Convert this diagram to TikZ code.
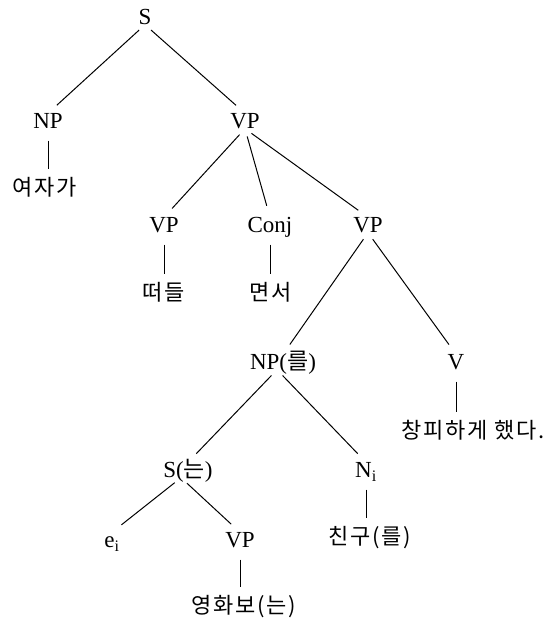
\documentclass[tikz,border=0pt]{standalone}
\usepackage{fontspec}
\setmainfont{Liberation Serif}
\newfontfamily\kr[LetterSpace=8]{Noto Sans CJK KR}
\usetikzlibrary{positioning}

\begin{document}
\begin{tikzpicture}[
    x=1pt, y=-1pt,
    cat/.style={inner sep=0pt, font=\fontsize{23}{26}\selectfont, text height=15pt, text depth=0pt},
    word/.style={inner sep=0pt, font=\kr\fontsize{22}{25}\selectfont, text height=16pt, text depth=3pt},
    branch/.style={line width=1pt, black, shorten <=8pt, shorten >=12pt},
    leaf/.style={line width=1pt, black, shorten <=12pt, shorten >=10pt}
]
    \useasboundingbox (0,0) rectangle (556,623);

    % ========== Categories ==========
    \node (s) [cat] at (145, 17) {S};
    \node (np) [cat] at (48, 121) {NP};
    \node (vp) [cat] at (245, 121) {VP};
    \node (vp_a) [cat] at (164, 225) {VP};
    \node (conj) [cat] at (270, 225) {Conj};
    \node (vp_b) [cat] at (368, 225) {VP};
    \node (np_r) [cat] at (283, 362) {NP({\kr 를})};
    \node (v) [cat] at (456, 362) {V};
    \node (s_n) [cat] at (188, 470) {S({\kr 는})};
    \node (n_i) [cat] at (366, 470) {N\textsubscript{i}};
    \node (e_i) [cat] at (112, 540) {e\textsubscript{i}};
    \node (vp_c) [cat] at (240, 540) {VP};

    % ========== Words ==========
    \node (w_yeoja) [word] at (45, 189) {여자가};
    \node (w_tteo) [word] at (164, 294) {떠들};
    \node (w_myeon) [word] at (271, 294) {면서};
    \node (w_chang) [word] at (473, 432) {창피하게 했다.};
    \node (w_chingu) [word] at (370, 538) {친구(를)};
    \node (w_yeong) [word] at (244, 607) {영화보(는)};

    % Branches
    \draw [branch] (s.south) -- (np.north);
    \draw [branch] (s.south) -- (vp.north);
    \draw [branch] (vp.south) -- (vp_a.north);
    \draw [branch] (vp.south) -- (conj.north);
    \draw [branch] (vp.south) -- (vp_b.north);
    \draw [branch] (vp_b.south) -- (np_r.north);
    \draw [branch] (vp_b.south) -- (v.north);
    \draw [branch] ([xshift=-6pt]np_r.south) -- (s_n.north);
    \draw [branch] ([xshift=-6pt]np_r.south) -- (n_i.north);
    \draw [branch] ([xshift=-7pt]s_n.south) -- (e_i.north);
    \draw [branch] ([xshift=-7pt]s_n.south) -- (vp_c.north);

    % Leaves
    \draw [leaf] (np.south) -- (np.south |- w_yeoja.north);
    \draw [leaf] (vp_a.south) -- (vp_a.south |- w_tteo.north);
    \draw [leaf] (conj.south) -- (conj.south |- w_myeon.north);
    \draw [leaf] (v.south) -- (v.south |- w_chang.north);
    \draw [leaf] (n_i.south) -- (n_i.south |- w_chingu.north);
    \draw [leaf] (vp_c.south) -- (vp_c.south |- w_yeong.north);
\end{tikzpicture}
\end{document}
